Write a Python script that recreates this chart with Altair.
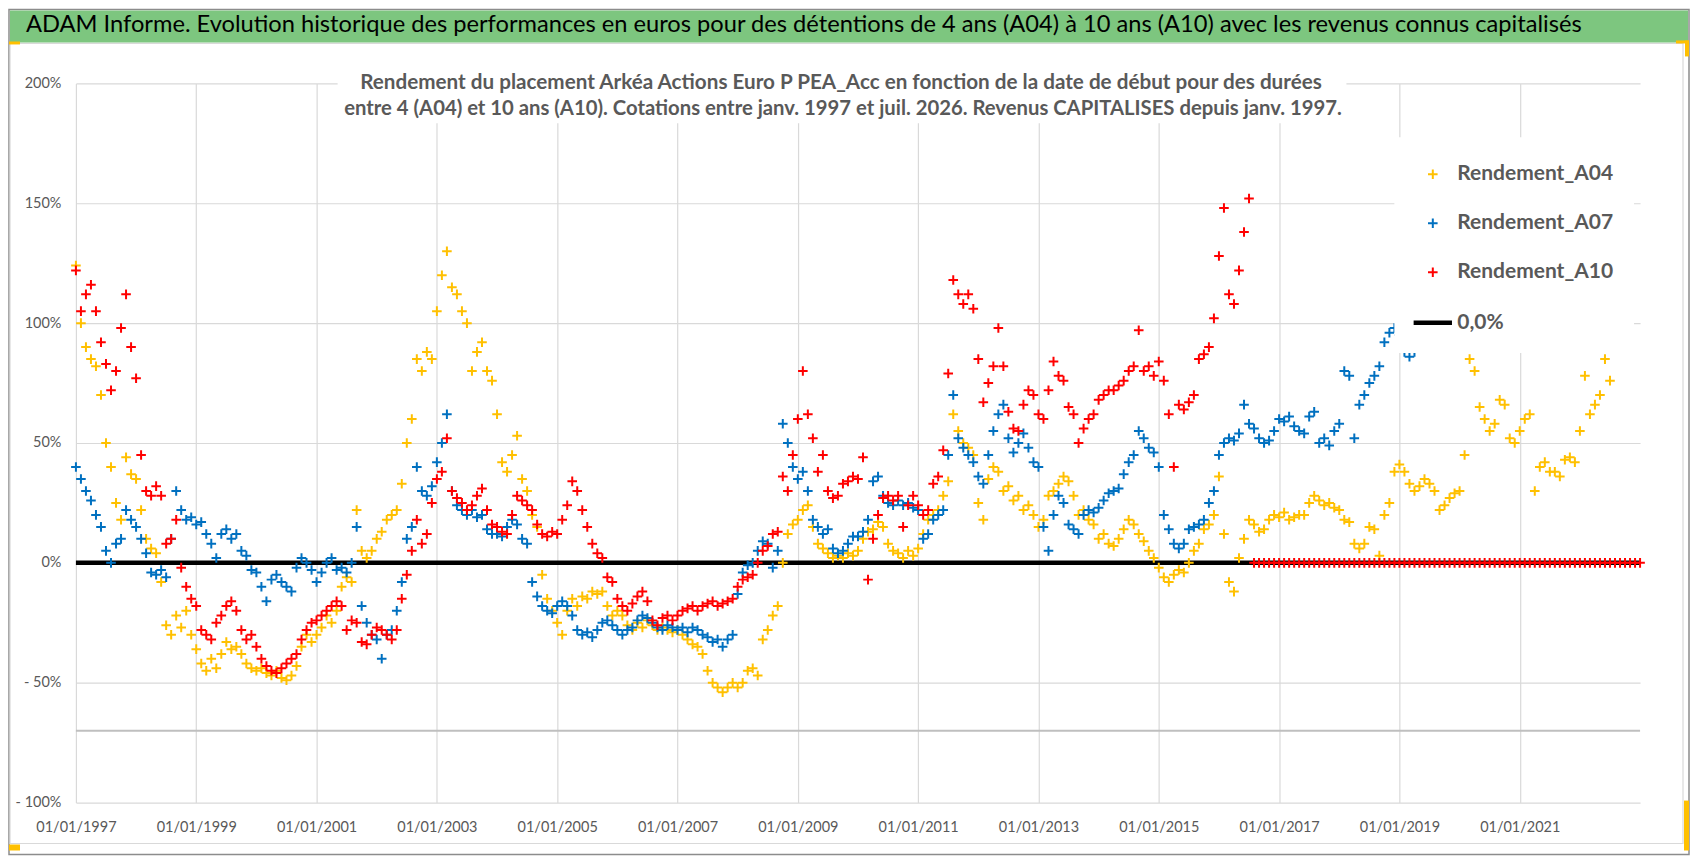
import altair as alt
import pandas as pd

# ---------------- data (percent, monthly from January 1997) ----------------
START_YEAR = 1997
A04 = [
    [124, 100, 90, 85, 82, 70, 50, 40, 25, 18, 44, 37],      # 1997
    [35, 22, 10, 6, 4, -8, -26, -30, -22, -27, -20, -30],    # 1998
    [-36, -42, -45, -40, -44, -38, -33, -36, -35, -38, -42, -44],
    [-45, -44, -46, -47, -45, -48, -49, -47, -43, -35, -30, -33],
    [-30, -27, -22, -25, -20, -10, -6, -8, 22, 5, 2, 5],
    [10, 13, 18, 20, 22, 33, 50, 60, 85, 80, 88, 85],
    [105, 120, 130, 115, 112, 105, 100, 80, 88, 92, 80, 76],
    [62, 42, 38, 45, 53, 35, 30, 20, 15, -5, -15, -20],
    [-25, -30, -20, -15, -18, -14, -15, -12, -13, -12, -18, -22],
    [-20, -22, -26, -28, -25, -27, -24, -26, -28, -27, -28, -29],
    [-28, -30, -32, -34, -35, -38, -45, -50, -52, -54, -52, -50],
    [-52, -50, -45, -44, -47, -32, -28, -22, -18, 0, 12, 16],
    [18, 22, 24, 15, 8, 6, 4, 2, 3, 2, 4, 3],
    [5, 10, 13, 14, 17, 15, 8, 5, 4, 2, 5, 3],
    [6, 12, 18, 20, 22, 28, 34, 62, 55, 50, 48, 45],
    [25, 18, 35, 40, 38, 30, 32, 26, 28, 22, 24, 20],
    [15, 18, 28, 30, 33, 36, 34, 28, 20, 22, 18, 16],
    [10, 12, 8, 7, 10, 14, 18, 16, 12, 9, 5, 2],
    [-2, -6, -8, -5, -3, -4, 0, 5, 8, 14, 16, 20],
    [36, 12, -8, -12, 2, 10, 18, 16, 13, 14, 18, 20],
    [19, 21, 18, 19, 20, 20, 25, 28, 26, 24, 25, 23],
    [22, 18, 17, 8, 6, 8, 15, 14, 3, 20, 25, 38],
    [41, 38, 33, 30, 32, 35, 33, 30, 22, 24, 27, 29],
    [30, 45, 85, 80, 65, 60, 55, 58, 68, 66, 52, 50],
    [55, 60, 62, 30, 40, 42, 38, 38, 36, 43, 44, 42],
    [55, 78, 62, 66, 70, 85, 76],                              # 2022
]
A07 = [
    [40, 35, 30, 26, 20, 15, 5, 0, 8, 10, 22, 18],           # 1997
    [15, 10, 4, -4, -5, -3, -6, 10, 30, 22, 18, 19],
    [16, 17, 12, 8, 2, 12, 14, 10, 12, 5, 3, -3],
    [-4, -10, -16, -7, -5, -8, -10, -12, -2, 2, 0, -3],
    [-8, -4, 0, 2, -3, -2, -4, 0, 15, -18, -25, -30],
    [-32, -40, -30, -28, -20, -8, 10, 15, 40, 30, 28, 32],
    [42, 50, 62, 30, 24, 22, 20, 22, 19, 20, 14, 12],
    [12, 11, 15, 18, 16, 10, 8, -8, -14, -18, -20, -21],
    [-18, -16, -18, -22, -28, -30, -29, -31, -28, -25, -24, -26],
    [-28, -30, -28, -27, -24, -22, -23, -25, -27, -28, -26, -27],
    [-28, -27, -29, -27, -28, -30, -31, -33, -32, -35, -32, -30],
    [-13, -4, -1, 0, 5, 9, 8, -2, 5, 58, 50, 40],
    [35, 38, 30, 18, 15, 12, 14, 6, 4, 5, 8, 11],
    [11, 13, 18, 34, 36, 28, 25, 24, 26, 24, 25, 23],
    [22, 10, 12, 18, 20, 22, 45, 70, 52, 48, 45, 42],
    [36, 33, 45, 55, 62, 66, 52, 46, 50, 54, 48, 42],
    [40, 15, 5, 20, 28, 25, 16, 14, 12, 20, 22, 21],
    [23, 26, 29, 30, 31, 37, 42, 45, 55, 52, 48, 46],
    [40, 20, 14, 8, 6, 8, 14, 15, 16, 18, 25, 30],
    [45, 50, 52, 51, 54, 66, 58, 56, 52, 50, 51, 55],
    [60, 59, 61, 57, 55, 54, 61, 63, 50, 52, 49, 55],
    [58, 80, 78, 52, 66, 70, 75, 78, 82, 92, 96, 98],
    [95, 88, 86, 88],                                         # 2019
]
A10 = [
    [122, 105, 112, 116, 105, 92, 83, 72, 80, 98, 112, 90],   # 1997
    [77, 45, 30, 28, 32, 28, 8, 10, 18, -2, -10, -15],
    [-18, -28, -30, -32, -25, -22, -18, -16, -20, -28, -32, -30],
    [-35, -40, -43, -45, -46, -44, -42, -40, -38, -32, -28, -25],
    [-24, -22, -20, -18, -16, -18, -28, -24, -25, -33, -34, -30],
    [-27, -28, -30, -32, -28, -15, -5, 5, 18, 8, 12, 25],
    [35, 38, 52, 30, 27, 25, 22, 24, 28, 31, 22, 16],
    [15, 13, 12, 20, 28, 26, 24, 22, 16, 12, 11, 13],
    [12, 18, 24, 34, 30, 22, 15, 8, 4, 2, -6, -8],
    [-15, -18, -20, -17, -14, -12, -16, -24, -26, -23, -22, -24],
    [-22, -20, -19, -18, -20, -18, -17, -16, -18, -17, -16, -15],
    [-10, -7, -6, -5, 0, 5, 7, 12, 13, 36, 30, 45],
    [60, 80, 62, 52, 38, 45, 30, 27, 28, 33, 34, 36],
    [35, 44, -7, 10, 20, 27, 28, 26, 28, 15, 24, 28],
    [24, 20, 22, 33, 36, 47, 79, 118, 112, 108, 112, 106],
    [85, 67, 75, 82, 98, 82, 63, 56, 55, 66, 72, 70],
    [62, 60, 72, 84, 78, 76, 65, 62, 50, 56, 60, 62],
    [68, 70, 72, 72, 74, 76, 80, 82, 97, 80, 82, 78],
    [84, 76, 62, 40, 66, 64, 67, 70, 85, 87, 90, 102],
    [128, 148, 112, 108, 122, 138, 152,
     0, 0, 0, 0, 0],                                          # 2016
    [0, 0, 0, 0, 0, 0, 0, 0, 0, 0, 0, 0],
    [0, 0, 0, 0, 0, 0, 0, 0, 0, 0, 0, 0],
    [0, 0, 0, 0, 0, 0, 0, 0, 0, 0, 0, 0],
    [0, 0, 0, 0, 0, 0, 0, 0, 0, 0, 0, 0],
    [0, 0, 0, 0, 0, 0, 0, 0, 0, 0, 0, 0],
    [0, 0, 0, 0, 0, 0, 0, 0, 0, 0, 0, 0],
    [0],                                                      # 2023
]
SERIES = ["Rendement_A04", "Rendement_A07", "Rendement_A10", "0,0%"]
COLORS = ["#FFC000", "#0070C0", "#FF0000", "#000000"]
Y_TICKS = [-100, -50, 0, 50, 100, 150, 200]
X_TICKS = [1997, 1999, 2001, 2003, 2005, 2007, 2009, 2011, 2013, 2015, 2017, 2019, 2021]
ZERO_LINE = [0]
AXIS_LINE = [-70]

TITLE = ("ADAM Informe. Evolution historique des performances en euros pour des "
         "détentions de 4 ans (A04) à 10 ans (A10) avec les revenus connus capitalisés")
SUB1 = ("Rendement du placement Arkéa Actions Euro P PEA_Acc en fonction de la "
        "date de début pour des durées")
SUB2 = ("entre 4 (A04) et 10 ans (A10). Cotations entre janv. 1997 et juil. 2026. "
        "Revenus CAPITALISES depuis janv. 1997.")

# ---------------- table ----------------
rows = []
for name, blocks in zip(SERIES[:3], (A04, A07, A10)):
    i = 0
    for block in blocks:
        for v in block:
            rows.append({"t": START_YEAR + i / 12.0, "value": v, "serie": name})
            i += 1
df = pd.DataFrame(rows)

FONT = "Lato"
GREY = "#595959"
W, H = 1566, 720
PLUS = "M-0.3,0H0.3M0,-0.3V0.3"
LINE = "M-1.2,0H1.2"

leg = alt.Legend(
    orient="none", legendX=1320, legendY=54, title=None,
    fillColor="white", padding=20, rowPadding=22,
    labelFont=FONT, labelFontSize=21, labelFontWeight="bold", labelColor=GREY,
    labelOffset=6, symbolSize=1024,
)

x_enc = alt.X(
    "t:Q",
    scale=alt.Scale(domain=[1997, 2023], nice=False, zero=False),
    axis=alt.Axis(values=X_TICKS, labelExpr="'01/01/' + datum.value", title=None,
                  domain=False, ticks=False, grid=True, gridColor="#d9d9d9",
                  gridWidth=1.2, labelFont=FONT, labelFontSize=14.5,
                  labelColor=GREY, labelPadding=18, labelFlush=False),
)
y_enc = alt.Y(
    "value:Q",
    scale=alt.Scale(domain=[-100, 200], nice=False),
    axis=alt.Axis(values=Y_TICKS,
                  labelExpr="datum.value < 0 ? '- ' + abs(datum.value) + '%' : datum.value + '%'",
                  title=None, domain=False, ticks=False, grid=True,
                  gridColor="#d9d9d9", gridWidth=1.2, labelFont=FONT,
                  labelFontSize=14.5, labelColor=GREY, labelPadding=15),
)

one = pd.DataFrame({"k": [0]})


def box(x1, x2, y1, y2, **kw):
    return alt.Chart(one).mark_rect(**kw).encode(
        x=alt.value(x1), x2=alt.value(x2), y=alt.value(y1), y2=alt.value(y2))


frame = box(-67, 1615, -74, 772, fill="white", fillOpacity=0, stroke="#8c8c8c",
            strokeWidth=1.5)
inner = box(-66, 1609, -40, 761, fill="white", fillOpacity=0, stroke="#d9d9d9",
            strokeWidth=1.2)
banner = box(-66, 1614, -73, -41, fill="#7dc67f")
handles = [
    box(-67, -56, -42, -39, fill="#FFC000"),
    box(1602, 1615, -43, -40, fill="#FFC000"),
    box(1611, 1615, -43, -27, fill="#FFC000"),
    box(-67, -56, 762, 768, fill="#FFC000"),
    box(1610, 1615, 718, 768, fill="#FFC000"),
]
title = alt.Chart(one).mark_text(text=TITLE, font=FONT, fontSize=23.7, color="black",
                                 align="left", baseline="middle").encode(
    x=alt.value(-50), y=alt.value(-58))

axis70 = alt.Chart(pd.DataFrame({"value": AXIS_LINE})).mark_rule(
    color="#bfbfbf", strokeWidth=2).encode(y=y_enc)
zero = alt.Chart(pd.DataFrame({"value": ZERO_LINE})).mark_rule(
    color="black", strokeWidth=4.5).encode(y=y_enc)

points = alt.Chart(df).mark_point(filled=False, size=1024, opacity=1).encode(
    x=x_enc, y=y_enc,
    color=alt.Color("serie:N", scale=alt.Scale(domain=SERIES, range=COLORS), legend=leg),
    shape=alt.Shape("serie:N", scale=alt.Scale(domain=SERIES, range=[PLUS, PLUS, PLUS, LINE]),
                    legend=leg),
    strokeWidth=alt.StrokeWidth("serie:N",
                                scale=alt.Scale(type="ordinal", domain=SERIES,
                                                range=[2, 2, 2, 4.5]),
                                legend=leg),
    order=alt.Order("serie:N"),
)

sub_box = box(262, 1272, -16, 40, fill="white")
sub1 = alt.Chart(one).mark_text(text=SUB1, font=FONT, fontSize=20.7, fontWeight="bold",
                                color=GREY, align="center", baseline="middle").encode(
    x=alt.value(766), y=alt.value(0))
sub2 = alt.Chart(one).mark_text(text=SUB2, font=FONT, fontSize=20.3, fontWeight="bold",
                                color=GREY, align="center", baseline="middle").encode(
    x=alt.value(768), y=alt.value(26))

chart = alt.layer(
    frame, inner, banner, *handles, title, axis70, zero, points, sub_box, sub1, sub2
).properties(width=W, height=H, padding=0, background="white").configure_view(
    stroke=None)

chart.save("out.html", embed_options={"renderer": "svg", "actions": False})
